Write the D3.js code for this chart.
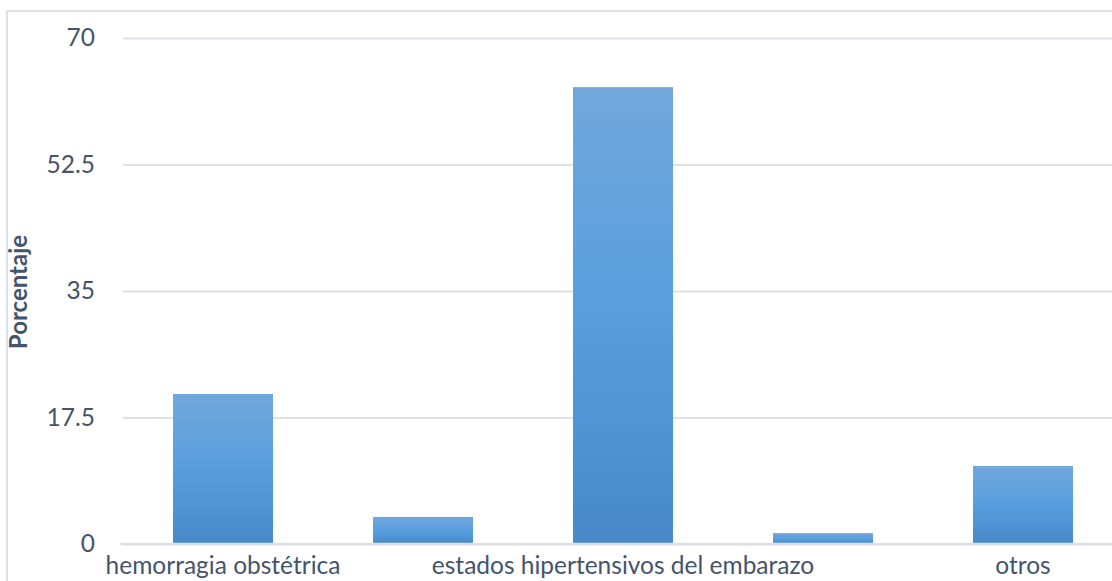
<!DOCTYPE html>
<html>
<head>
<meta charset="utf-8">
<script src="https://cdn.jsdelivr.net/npm/d3@7"></script>
<style>
  html, body { margin: 0; padding: 0; background: #fff; }
  svg { display: block; }
</style>
</head>
<body>
<svg id="chart" width="1112" height="581"></svg>
<script>
// Causes, in plotting order (only some categories carry a visible label)
const categories = ["hemorragia obstétrica", "", "estados hipertensivos del embarazo", "", "otros"];
const percentages = [20.75, 3.75, 63.2, 1.5, 10.8];
const yTicks = [0, 17.5, 35, 52.5, 70];
const yTitle = "Porcentaje";

const W = 1112, H = 581;
const margin = { top: 38, right: -11, bottom: 37, left: 123 };
const FONT = "Lato, 'Open Sans', sans-serif";
const svg = d3.select("#chart");

const x = d3.scaleBand()
  .domain(d3.range(categories.length))
  .range([margin.left, W - margin.right])
  .paddingInner(0.5)
  .paddingOuter(0.25);

const y = d3.scaleLinear()
  .domain([0, 70])
  .range([H - margin.bottom, margin.top]);

// chart frame
svg.append("rect")
  .attr("x", 7).attr("y", 11)
  .attr("width", W + 20).attr("height", H + 20)
  .attr("fill", "none")
  .attr("stroke", "#DEE2E8")
  .attr("stroke-width", 2);

// bar gradient
const defs = svg.append("defs");
const grad = defs.append("linearGradient")
  .attr("id", "barFill")
  .attr("x1", 0).attr("y1", 0).attr("x2", 0).attr("y2", 1);
grad.append("stop").attr("offset", "0%").attr("stop-color", "#72A7DB");
grad.append("stop").attr("offset", "50%").attr("stop-color", "#579EDF");
grad.append("stop").attr("offset", "100%").attr("stop-color", "#4789C8");

// horizontal gridlines + y labels
const yAxis = d3.axisLeft(y)
  .tickValues(yTicks)
  .tickSize(-(W - margin.left))
  .tickPadding(28)
  .tickFormat(d => d3.format("")(d));

const gy = svg.append("g")
  .attr("transform", `translate(${margin.left},0)`)
  .call(yAxis);
gy.select(".domain").remove();
gy.selectAll(".tick line")
  .attr("stroke", "#DDE1E7")
  .attr("stroke-width", 2);
gy.selectAll(".tick text")
  .attr("fill", "#44546A")
  .style("font-family", FONT)
  .style("font-size", "24.5px");

// bars
svg.append("g")
  .selectAll("rect")
  .data(percentages)
  .join("rect")
  .attr("x", (d, i) => x(i))
  .attr("y", d => y(d))
  .attr("width", x.bandwidth())
  .attr("height", d => y(0) - y(d))
  .attr("fill", "url(#barFill)");

// category axis
const xAxis = d3.axisBottom(x)
  .tickSize(0)
  .tickPadding(13)
  .tickFormat(i => categories[i]);
const gx = svg.append("g")
  .attr("transform", `translate(0,${y(0)})`)
  .call(xAxis);
gx.select(".domain")
  .attr("d", `M${margin.left - 3},0H${W}`)
  .attr("stroke", "#DDE1E7")
  .attr("stroke-width", 2.5);
gx.selectAll(".tick text")
  .attr("fill", "#44546A")
  .style("font-family", FONT)
  .style("font-size", "24.5px");

// axis title
svg.append("text")
  .attr("transform", `translate(27,${(y(0) + y(70)) / 2 + 1}) rotate(-90)`)
  .attr("text-anchor", "middle")
  .attr("fill", "#44546A")
  .style("font-family", FONT)
  .style("font-size", "24px")
  .style("font-weight", "bold")
  .text(yTitle);
</script>
</body>
</html>
